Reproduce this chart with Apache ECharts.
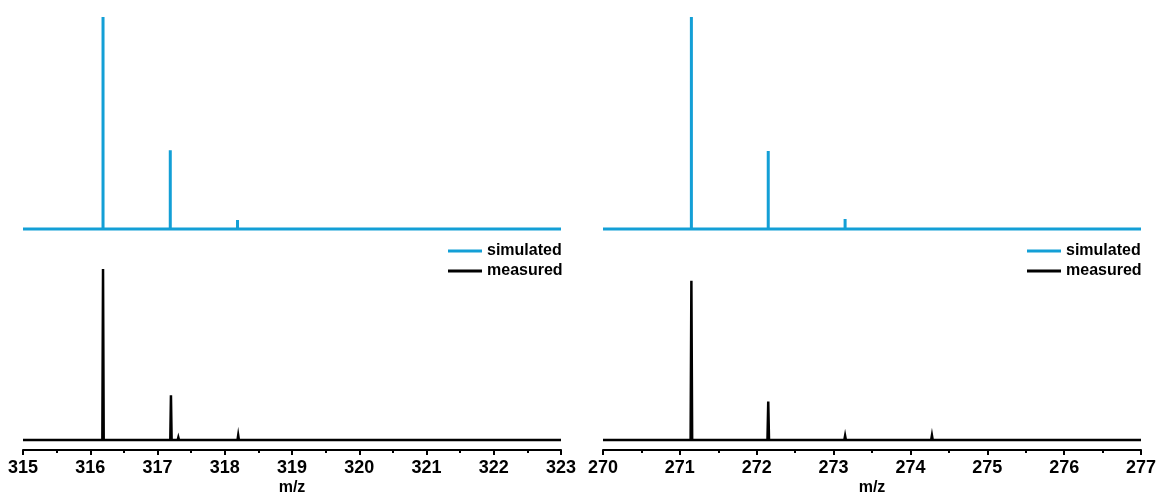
<!DOCTYPE html>
<html>
<head>
<meta charset="utf-8">
<script src="https://cdn.jsdelivr.net/npm/echarts@6/dist/echarts.min.js"></script>
<style>
  html, body { margin: 0; padding: 0; background: #fff; }
  #chart { width: 1160px; height: 497px; }
</style>
</head>
<body>
<div id="chart"></div>
<script>
// m/z ranges of the two spectra
const rangeLeft = [315, 323];
const rangeRight = [270, 277];

// Simulated isotope pattern, left compound: [m/z, relative intensity]
const simulatedLeft = [
  [316.19, 1.0], [317.19, 0.372], [318.19, 0.042],
  [319.20, 0.005], [320.20, 0.004], [321.20, 0.003], [322.20, 0.002]
];
// Measured spectrum, left compound
const measuredLeft = [
  [315.21, 0.006], [316.10, 0.006], [316.19, 0.81], [316.30, 0.008],
  [317.20, 0.212], [317.31, 0.012], [318.20, 0.022], [318.30, 0.004],
  [319.14, 0.008], [319.20, 0.003], [320.15, 0.002], [321.15, 0.003], [321.30, 0.003]
];

// Simulated isotope pattern, right compound
const simulatedRight = [
  [271.15, 1.0], [272.15, 0.368], [273.15, 0.047],
  [274.15, 0.004], [275.15, 0.003], [276.15, 0.002]
];
// Measured spectrum, right compound
const measuredRight = [
  [271.10, 0.004], [271.15, 0.755], [272.15, 0.182], [273.15, 0.02],
  [274.28, 0.022], [275.12, 0.004], [275.26, 0.004]
];

const seriesNames = ['simulated', 'measured'];
const BLUE = '#139fd6';
const FONT = '"Liberation Sans", Arial, sans-serif';

// Turn a peak list into a stick profile with a zero baseline across the range
function profile(peaks, range, halfWidth) {
  const pts = [[range[0], 0]];
  peaks.slice().sort((a, b) => a[0] - b[0]).forEach(([mz, h]) => {
    pts.push([mz - halfWidth, 0], [mz, h], [mz + halfWidth, 0]);
  });
  pts.push([range[1], 0]);
  return pts;
}

const grids = [
  { left: 23, width: 538, top: 17, height: 212 },
  { left: 23, width: 538, top: 229, height: 212 },
  { left: 603, width: 538, top: 17, height: 212 },
  { left: 603, width: 538, top: 229, height: 212 }
];

function hiddenX(idx, range) {
  return { type: 'value', gridIndex: idx, min: range[0], max: range[1], show: false };
}
function shownX(idx, range) {
  return {
    type: 'value', gridIndex: idx, min: range[0], max: range[1], interval: 1,
    offset: 10,
    axisLine: { show: true, onZero: false, lineStyle: { color: '#000', width: 2 } },
    axisTick: { show: true, length: 5, lineStyle: { color: '#000', width: 2 } },
    minorTick: { show: true, splitNumber: 2, length: 3, lineStyle: { color: '#000', width: 2 } },
    splitLine: { show: false },
    axisLabel: { color: '#000', fontFamily: FONT, fontWeight: 'bold', fontSize: 18, margin: 9 },
    name: 'm/z', nameLocation: 'middle', nameGap: 30,
    nameTextStyle: { color: '#000', fontFamily: FONT, fontWeight: 'bold', fontSize: 16 }
  };
}
function yAx(idx) {
  return { type: 'value', gridIndex: idx, min: 0, max: 1, show: false };
}

function line(name, idx, data, color, width) {
  return {
    name, type: 'line', xAxisIndex: idx, yAxisIndex: idx, data,
    showSymbol: false, symbol: 'none', clip: false, animation: false,
    lineStyle: { color, width, join: 'miter' }, itemStyle: { color }
  };
}

function legendAt(left) {
  return {
    data: seriesNames, orient: 'vertical', left, top: 238,
    icon: 'rect', itemWidth: 34, itemHeight: 3, itemGap: 4,
    textStyle: { color: '#000', fontFamily: FONT, fontWeight: 'bold', fontSize: 16 },
    selectedMode: false
  };
}

const chart = echarts.init(document.getElementById('chart'), null, { renderer: 'canvas' });
chart.setOption({
  animation: false,
  backgroundColor: '#fff',
  grid: grids,
  legend: [legendAt(443), legendAt(1022)],
  xAxis: [hiddenX(0, rangeLeft), shownX(1, rangeLeft), hiddenX(2, rangeRight), shownX(3, rangeRight)],
  yAxis: [yAx(0), yAx(1), yAx(2), yAx(3)],
  series: [
    line(seriesNames[0], 0, profile(simulatedLeft, rangeLeft, 0.0001), BLUE, 3),
    line(seriesNames[1], 1, profile(measuredLeft, rangeLeft, 0.01), '#000', 2.5),
    line(seriesNames[0], 2, profile(simulatedRight, rangeRight, 0.0001), BLUE, 3),
    line(seriesNames[1], 3, profile(measuredRight, rangeRight, 0.01), '#000', 2.5)
  ]
});
</script>
</body>
</html>
